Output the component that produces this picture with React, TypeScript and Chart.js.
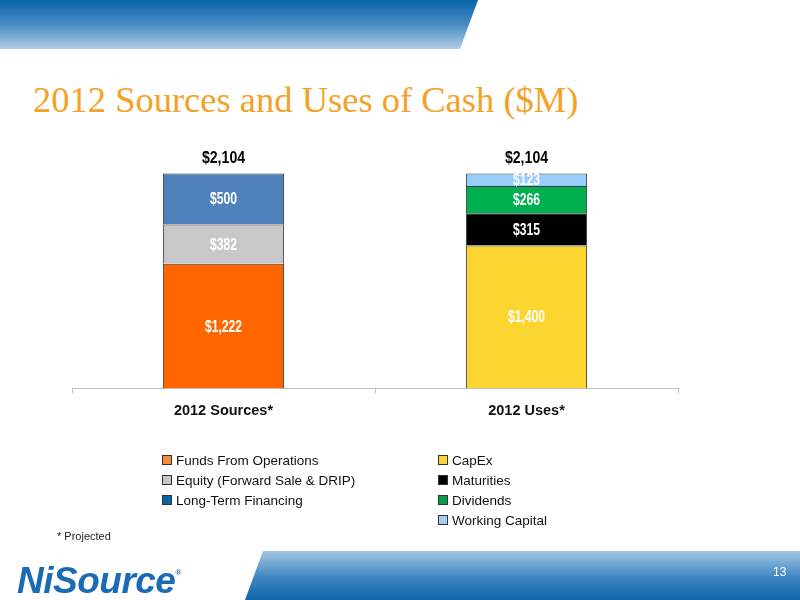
import React, { useEffect, useRef } from "react";
import { Chart, registerables } from "chart.js";

Chart.register(...registerables);

const categories = ["2012 Sources*", "2012 Uses*"];
const fundsFromOperations = [1222, null];
const equityForwardSaleDrip = [382, null];
const longTermFinancing = [500, null];
const capEx = [null, 1400];
const maturities = [null, 315];
const dividends = [null, 266];
const workingCapital = [null, 123];

const seriesNames = [
  "Funds From Operations",
  "Equity (Forward Sale & DRIP)",
  "Long-Term Financing",
  "CapEx",
  "Maturities",
  "Dividends",
  "Working Capital",
];
const barColors = ["#ff6600", "#c8c8c8", "#4f81bd", "#fdd530", "#000000", "#00b050", "#99ccff"];
const legendColors = ["#f58a3a", "#c4c4c4", "#0a63ad", "#f8d332", "#000000", "#00a04a", "#a4cdf3"];
const leftLegend = [0, 1, 2];
const rightLegend = [3, 4, 5, 6];

const SANS = "'Liberation Sans', Arial, sans-serif";

const fmt = (v: number) => "$" + v.toLocaleString("en-US");

function condensedText(ctx: any, text: string, x: number, y: number, sx: number) {
  ctx.save();
  ctx.translate(x, y);
  ctx.scale(sx, 1);
  ctx.fillText(text, 0, 0);
  ctx.restore();
}

const labelPlugin = {
  id: "segLabels",
  afterDatasetsDraw(chart: any) {
    const ctx = chart.ctx;
    ctx.save();
    ctx.textAlign = "center";
    ctx.textBaseline = "middle";
    ctx.font = `bold 16px ${SANS}`;
    ctx.fillStyle = "#ffffff";
    chart.data.datasets.forEach((ds: any, di: number) => {
      const meta = chart.getDatasetMeta(di);
      meta.data.forEach((bar: any, i: number) => {
        const v = ds.data[i];
        if (v == null) return;
        condensedText(ctx, fmt(v), bar.x, (bar.y + bar.base) / 2 + 1, 0.76);
      });
    });
    const yScale = chart.scales.y;
    const xScale = chart.scales.x;
    ctx.font = `bold 17px ${SANS}`;
    ctx.fillStyle = "#000000";
    ctx.textBaseline = "middle";
    categories.forEach((_c, i) => {
      let total = 0;
      chart.data.datasets.forEach((ds: any) => {
        const v = ds.data[i];
        if (v != null) total += v;
      });
      condensedText(ctx, fmt(total), xScale.getPixelForValue(i), yScale.getPixelForValue(total) - 15, 0.83);
    });
    ctx.restore();
  },
};

export default function App() {
  const ref = useRef<HTMLCanvasElement>(null);
  useEffect(() => {
    const series = [
      fundsFromOperations,
      equityForwardSaleDrip,
      longTermFinancing,
      capEx,
      maturities,
      dividends,
      workingCapital,
    ];
    const chart = new Chart(ref.current!, {
      type: "bar",
      data: {
        labels: categories,
        datasets: series.map((d, i) => ({
          label: seriesNames[i],
          data: d,
          backgroundColor: barColors[i],
          borderColor: "#3a3a3a",
          borderWidth: 1,
          barPercentage: 0.4,
          categoryPercentage: 1,
        })),
      },
      options: {
        animation: false,
        responsive: false,
        maintainAspectRatio: false,
        layout: { padding: { top: 133, left: 72, right: 122, bottom: 171 } },
        plugins: { legend: { display: false }, tooltip: { enabled: false } },
        scales: {
          x: {
            stacked: true,
            border: { display: true, color: "#c0c0c0", width: 1 },
            grid: { display: true, drawOnChartArea: false, tickLength: 5, color: "#c0c0c0", offset: true },
            ticks: { font: { family: SANS, size: 14.5, weight: "bold" }, color: "#111111", padding: 9 },
          },
          y: { stacked: true, display: false, min: 0, max: 2500 },
        },
      },
      plugins: [labelPlugin],
    });
    return () => chart.destroy();
  }, []);

  const legendItem = (idx: number, x: number, row: number) => (
    <div
      key={idx}
      style={{ position: "absolute", left: x, top: 450 + row * 20, height: 20, display: "flex", alignItems: "center" }}
    >
      <div style={{ width: 8, height: 8, background: legendColors[idx], border: "1px solid #333", marginRight: 4 }} />
      <span style={{ fontFamily: SANS, fontSize: 13.5, color: "#111" }}>{seriesNames[idx]}</span>
    </div>
  );

  return (
    <div style={{ position: "absolute", left: 0, top: 0, width: 800, height: 600, background: "#fff", overflow: "hidden" }}>
      <div
        style={{
          position: "absolute",
          left: 0,
          top: 0,
          width: 480,
          height: 49,
          background: "linear-gradient(to bottom, #0864a8 0%, #4a8cc4 50%, #b0cde6 100%)",
          clipPath: "polygon(0 0, 478px 0, 460px 49px, 0 49px)",
        }}
      />
      <div
        style={{
          position: "absolute",
          left: 0,
          top: 551,
          width: 800,
          height: 49,
          background: "linear-gradient(to bottom, #a2c6e3 0%, #3d86c1 55%, #0e64a9 100%)",
          clipPath: "polygon(263px 0, 800px 0, 800px 49px, 245px 49px)",
        }}
      />
      <div
        style={{
          position: "absolute",
          left: 33,
          top: 78,
          fontFamily: "'Liberation Serif', 'Times New Roman', serif",
          fontSize: 36.5,
          color: "#f4a127",
          whiteSpace: "nowrap",
          lineHeight: "44px",
        }}
      >
        2012 Sources and Uses of Cash ($M)
      </div>
      <canvas ref={ref} width={800} height={600} style={{ position: "absolute", left: 0, top: 0, width: 800, height: 600 }} />
      {leftLegend.map((idx, r) => legendItem(idx, 162, r))}
      {rightLegend.map((idx, r) => legendItem(idx, 438, r))}
      <div style={{ position: "absolute", left: 57, top: 530, fontFamily: SANS, fontSize: 11, color: "#222" }}>* Projected</div>
      <div
        style={{
          position: "absolute",
          left: 17,
          top: 561,
          fontFamily: SANS,
          fontWeight: "bold",
          fontStyle: "italic",
          fontSize: 37,
          color: "#1b6bb4",
          letterSpacing: -0.5,
          lineHeight: "40px",
          whiteSpace: "nowrap",
        }}
      >
        NiSource<sup style={{ fontSize: 8, fontStyle: "normal", verticalAlign: "top", lineHeight: "24px" }}>®</sup>
      </div>
      <div style={{ position: "absolute", left: 773, top: 565, fontFamily: SANS, fontSize: 12, color: "#fff" }}>13</div>
    </div>
  );
}
